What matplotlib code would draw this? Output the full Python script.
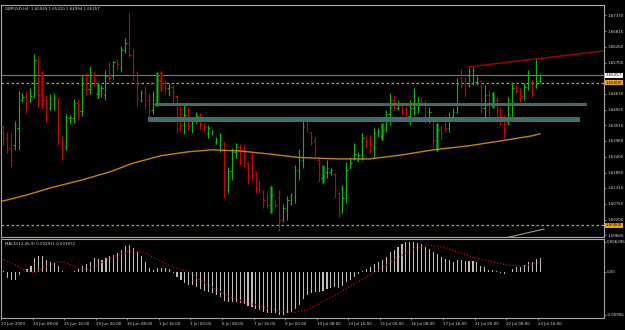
import matplotlib
matplotlib.use("Agg")
import matplotlib.pyplot as plt
import matplotlib.transforms as mtransforms
from matplotlib.patches import Rectangle

# GBPUSD H4 bars, 23 Jun 2009 - 23 Jul 2009
opens = [1.6345, 1.6307, 1.6272, 1.6282, 1.6342, 1.6440, 1.6450, 1.6436, 1.6454, 1.6580,
         1.6457, 1.6440, 1.6410, 1.6436, 1.6447, 1.6310, 1.6279, 1.6377, 1.6377, 1.6429,
         1.6401, 1.6478, 1.6478, 1.6527, 1.6461, 1.6475, 1.6457, 1.6524, 1.6524, 1.6573,
         1.6552, 1.6616, 1.6640, 1.6602, 1.6538, 1.6440, 1.6464, 1.6440, 1.6405, 1.6426,
         1.6510, 1.6499, 1.6482, 1.6485, 1.6454, 1.6377, 1.6352, 1.6387, 1.6352, 1.6373,
         1.6384, 1.6356, 1.6324, 1.6324, 1.6293, 1.6282, 1.6290, 1.6124, 1.6191, 1.6258,
         1.6275, 1.6265, 1.6218, 1.6236, 1.6187, 1.6149, 1.6121, 1.6100, 1.6071, 1.6085,
         1.6096, 1.6022, 1.6054, 1.6089, 1.6100, 1.6194, 1.6229, 1.6352, 1.6328, 1.6296,
         1.6229, 1.6166, 1.6187, 1.6187, 1.6180, 1.6114, 1.6054, 1.6096, 1.6201, 1.6236,
         1.6229, 1.6244, 1.6310, 1.6300, 1.6272, 1.6321, 1.6314, 1.6349, 1.6391, 1.6440,
         1.6412, 1.6426, 1.6408, 1.6384, 1.6412, 1.6426, 1.6440, 1.6429, 1.6377, 1.6366,
         1.6300, 1.6335, 1.6370, 1.6342, 1.6384, 1.6398, 1.6517, 1.6496, 1.6492, 1.6528,
         1.6503, 1.6507, 1.6412, 1.6457, 1.6422, 1.6440, 1.6405, 1.6377, 1.6363, 1.6426,
         1.6482, 1.6471, 1.6454, 1.6485, 1.6503, 1.6489, 1.6505]
highs = [1.6352, 1.6328, 1.6324, 1.6366, 1.6471, 1.6464, 1.6471, 1.6482, 1.6602, 1.6595,
         1.6542, 1.6457, 1.6461, 1.6464, 1.6447, 1.6314, 1.6391, 1.6387, 1.6443, 1.6443,
         1.6527, 1.6534, 1.6559, 1.6538, 1.6499, 1.6492, 1.6545, 1.6573, 1.6577, 1.6584,
         1.6630, 1.6658, 1.6745, 1.6619, 1.6538, 1.6475, 1.6489, 1.6464, 1.6471, 1.6538,
         1.6542, 1.6510, 1.6499, 1.6492, 1.6457, 1.6419, 1.6426, 1.6415, 1.6380, 1.6398,
         1.6394, 1.6359, 1.6352, 1.6335, 1.6310, 1.6324, 1.6293, 1.6204, 1.6272, 1.6290,
         1.6286, 1.6286, 1.6222, 1.6258, 1.6191, 1.6159, 1.6124, 1.6114, 1.6138, 1.6089,
         1.6124, 1.6075, 1.6103, 1.6114, 1.6211, 1.6268, 1.6380, 1.6370, 1.6328, 1.6310,
         1.6236, 1.6211, 1.6229, 1.6201, 1.6184, 1.6117, 1.6142, 1.6222, 1.6240, 1.6290,
         1.6258, 1.6324, 1.6317, 1.6317, 1.6342, 1.6342, 1.6359, 1.6405, 1.6464, 1.6457,
         1.6440, 1.6433, 1.6415, 1.6440, 1.6482, 1.6450, 1.6450, 1.6440, 1.6415, 1.6370,
         1.6359, 1.6352, 1.6387, 1.6398, 1.6412, 1.6517, 1.6549, 1.6521, 1.6552, 1.6556,
         1.6524, 1.6510, 1.6492, 1.6475, 1.6468, 1.6450, 1.6415, 1.6387, 1.6450, 1.6503,
         1.6492, 1.6482, 1.6499, 1.6545, 1.6510, 1.6587, 1.6531]
lows = [1.6282, 1.6254, 1.6204, 1.6265, 1.6265, 1.6433, 1.6394, 1.6433, 1.6447, 1.6412,
        1.6412, 1.6363, 1.6405, 1.6405, 1.6282, 1.6229, 1.6265, 1.6356, 1.6359, 1.6370,
        1.6384, 1.6457, 1.6461, 1.6489, 1.6447, 1.6450, 1.6440, 1.6503, 1.6513, 1.6545,
        1.6538, 1.6605, 1.6591, 1.6510, 1.6419, 1.6433, 1.6408, 1.6380, 1.6391, 1.6419,
        1.6471, 1.6461, 1.6454, 1.6429, 1.6324, 1.6328, 1.6321, 1.6335, 1.6324, 1.6359,
        1.6338, 1.6328, 1.6307, 1.6317, 1.6286, 1.6258, 1.6096, 1.6114, 1.6159, 1.6236,
        1.6211, 1.6204, 1.6145, 1.6159, 1.6114, 1.6114, 1.6061, 1.6061, 1.6043, 1.6064,
        1.5980, 1.6012, 1.6019, 1.6071, 1.6078, 1.6159, 1.6201, 1.6328, 1.6282, 1.6240,
        1.6152, 1.6149, 1.6166, 1.6177, 1.6096, 1.6029, 1.6043, 1.6078, 1.6201, 1.6229,
        1.6222, 1.6229, 1.6272, 1.6254, 1.6236, 1.6310, 1.6300, 1.6328, 1.6352, 1.6405,
        1.6405, 1.6387, 1.6370, 1.6352, 1.6387, 1.6394, 1.6422, 1.6359, 1.6359, 1.6275,
        1.6261, 1.6300, 1.6328, 1.6328, 1.6377, 1.6394, 1.6482, 1.6450, 1.6485, 1.6492,
        1.6492, 1.6394, 1.6380, 1.6380, 1.6412, 1.6359, 1.6352, 1.6307, 1.6352, 1.6377,
        1.6464, 1.6433, 1.6440, 1.6475, 1.6450, 1.6482, 1.6499]
closes = [1.6300, 1.6265, 1.6229, 1.6352, 1.6440, 1.6450, 1.6436, 1.6454, 1.6580, 1.6457,
          1.6440, 1.6377, 1.6440, 1.6447, 1.6317, 1.6265, 1.6380, 1.6380, 1.6429, 1.6401,
          1.6478, 1.6475, 1.6527, 1.6510, 1.6482, 1.6482, 1.6524, 1.6517, 1.6573, 1.6566,
          1.6616, 1.6640, 1.6598, 1.6538, 1.6440, 1.6464, 1.6422, 1.6401, 1.6426, 1.6510,
          1.6499, 1.6482, 1.6485, 1.6454, 1.6370, 1.6352, 1.6387, 1.6349, 1.6373, 1.6384,
          1.6352, 1.6345, 1.6342, 1.6331, 1.6303, 1.6310, 1.6124, 1.6191, 1.6258, 1.6275,
          1.6229, 1.6236, 1.6166, 1.6201, 1.6131, 1.6124, 1.6089, 1.6071, 1.6107, 1.6071,
          1.6019, 1.6061, 1.6089, 1.6107, 1.6194, 1.6229, 1.6345, 1.6338, 1.6289, 1.6265,
          1.6177, 1.6201, 1.6201, 1.6194, 1.6124, 1.6047, 1.6096, 1.6194, 1.6218, 1.6251,
          1.6247, 1.6307, 1.6282, 1.6282, 1.6324, 1.6331, 1.6349, 1.6391, 1.6440, 1.6415,
          1.6426, 1.6405, 1.6384, 1.6412, 1.6440, 1.6440, 1.6429, 1.6377, 1.6398, 1.6300,
          1.6335, 1.6324, 1.6342, 1.6380, 1.6398, 1.6496, 1.6489, 1.6475, 1.6542, 1.6545,
          1.6514, 1.6412, 1.6457, 1.6405, 1.6447, 1.6405, 1.6384, 1.6356, 1.6426, 1.6482,
          1.6471, 1.6454, 1.6485, 1.6527, 1.6482, 1.6524, 1.6526]
dark_bars = [10, 24, 39, 40, 68, 81, 96, 110, 124]

# moving average, sampled along the curve
ma_bars = [0, 6, 12, 20, 27, 33, 40, 47, 53, 60, 67, 75, 85, 93, 101, 109, 118, 126, 134, 136]
ma_values = [1.6085, 1.6106, 1.6131, 1.6159, 1.6187, 1.6218, 1.6244, 1.6258, 1.6265, 1.6261,
             1.6251, 1.6238, 1.6233, 1.6233, 1.6247, 1.6265, 1.6279, 1.6296, 1.6314, 1.6321]

# MACD(12,26,9) main line (histogram) and signal line
macd_main = [0.0002, -0.0014, -0.0018, -0.0018, -0.0008, -0.0001, 0.0005, 0.0011, 0.0028, 0.0032,
             0.0032, 0.0025, 0.0021, 0.0018, 0.0011, 0.0001, -0.0002, -0.0001, 0.0001, 0.0007,
             0.0012, 0.0015, 0.0021, 0.0028, 0.0026, 0.0025, 0.0028, 0.0032, 0.0035, 0.0039,
             0.0046, 0.0054, 0.0056, 0.0049, 0.0042, 0.0032, 0.0021, 0.0007, 0.0004, 0.0007,
             0.0007, 0.0007, 0.0005, -0.0004, -0.0011, -0.0018, -0.0025, -0.0028, -0.0028, -0.0032,
             -0.0036, -0.0040, -0.0043, -0.0046, -0.0050, -0.0053, -0.0062, -0.0064, -0.0063, -0.0064,
             -0.0066, -0.0068, -0.0072, -0.0074, -0.0078, -0.0081, -0.0084, -0.0087, -0.0087, -0.0088,
             -0.0092, -0.0091, -0.0088, -0.0085, -0.0078, -0.0070, -0.0058, -0.0050, -0.0045, -0.0042,
             -0.0042, -0.0040, -0.0037, -0.0034, -0.0033, -0.0034, -0.0030, -0.0022, -0.0017, -0.0011,
             -0.0006, 0.0002, 0.0006, 0.0010, 0.0015, 0.0019, 0.0024, 0.0031, 0.0040, 0.0046,
             0.0052, 0.0058, 0.0061, 0.0063, 0.0062, 0.0060, 0.0057, 0.0052, 0.0048, 0.0042,
             0.0036, 0.0031, 0.0027, 0.0024, 0.0021, 0.0024, 0.0025, 0.0022, 0.0023, 0.0022,
             0.0019, 0.0011, 0.0009, 0.0004, 0.0003, 0.0001, -0.0003, -0.0006, -0.0002, 0.0006,
             0.0009, 0.0009, 0.0013, 0.0019, 0.0020, 0.0026, 0.0029]
signal_bars = [0, 3, 6, 8, 10, 14, 16, 19, 21, 24, 27, 31, 33, 36, 39, 43, 47, 50, 54, 58,
               62, 66, 70, 74, 77, 80, 84, 88, 92, 96, 100, 104, 108, 112, 116, 120, 124, 128, 132, 136]
signal_values = [0.0025, 0.0014, 0.0000, -0.0002, 0.0007, 0.0021, 0.0018, 0.0007, 0.0004, 0.0014,
                 0.0028, 0.0040, 0.0044, 0.0039, 0.0025, 0.0009, 0.0000, -0.0019, -0.0038, -0.0055,
                 -0.0066, -0.0075, -0.0083, -0.0086, -0.0080, -0.0068, -0.0050, -0.0030, -0.0012, 0.0008,
                 0.0030, 0.0048, 0.0056, 0.0050, 0.0038, 0.0028, 0.0020, 0.0013, 0.0012, 0.0019]

# chart objects
zone_start = [38.6, 36.8]
zone_end = [148.0, 146.0]
zone_low = [1.6419, 1.6363]
zone_high = [1.6430, 1.6380]
trend_bars = [118, 152.2]
trend_prices = [1.6556, 1.6612]
trend2_bars = [127, 137]
trend2_prices = [1.5955, 1.5987]
alert_levels = [1.65000, 1.60000]
bid = 1.65257

price_ticks = [1.67370, 1.66815, 1.66260, 1.65705, 1.64610, 1.64055, 1.63515,
               1.62960, 1.62405, 1.61850, 1.61310, 1.60755, 1.60200, 1.59660]
date_bars = [0, 8, 16, 24, 32, 40, 48, 56, 64, 72, 80, 88, 96, 104, 112, 120, 128, 136]
date_labels = ["23 Jun 2009", "24 Jun 08:00", "25 Jun 16:00", "29 Jun 00:00", "30 Jun 08:00",
               "1 Jul 16:00", "3 Jul 00:00", "6 Jul 08:00", "7 Jul 16:00", "9 Jul 00:00",
               "10 Jul 08:00", "13 Jul 16:00", "15 Jul 00:00", "16 Jul 08:00", "17 Jul 16:00",
               "21 Jul 00:00", "22 Jul 08:00", "23 Jul 16:00"]

UP, DOWN = "#00c000", "#d00000"
DARK_UP, DARK_DOWN = "#006400", "#6e0000"
FRAME = "#a8a8a8"
TXT = "#d8d8d8"
FS = 2.9

fig = plt.figure(figsize=(6.25, 3.3), dpi=100, facecolor="black")
ax = fig.add_axes([1 / 625, 93 / 330, 603 / 625, 232 / 330], facecolor="black")
ax2 = fig.add_axes([1 / 625, 12 / 330, 603 / 625, 79 / 330], facecolor="black")
xlim = (-0.43, 152.2)

for a in (ax, ax2):
    a.set_xlim(*xlim)
    for s in a.spines.values():
        s.set_color(FRAME)
        s.set_linewidth(0.8)
    a.yaxis.tick_right()
    a.tick_params(axis="y", colors=FRAME, labelcolor=TXT, labelsize=FS, length=1.5, width=0.5, pad=0.8)

# --- price panel ---
ax.set_ylim(1.5959, 1.6773)
for i in range(len(opens)):
    o, h, l, c = opens[i], highs[i], lows[i], closes[i]
    up = c >= o
    if i in dark_bars:
        ax.vlines(i, l, h, color=DARK_UP if up else DARK_DOWN, lw=2.2, zorder=2)
    col = UP if up else DOWN
    ax.vlines(i, l, h, color=col, lw=0.8, zorder=3)
    ax.hlines(o, i - 0.35, i, color=col, lw=0.8, zorder=3)
    ax.hlines(c, i, i + 0.35, color=col, lw=0.8, zorder=3)

ax.plot(ma_bars, ma_values, color="#c8820c", lw=1.0, zorder=4)

for x0, x1, y0, y1 in zip(zone_start, zone_end, zone_low, zone_high):
    ax.add_patch(Rectangle((x0, y0), x1 - x0, y1 - y0, color="#3f6e6d", zorder=4, lw=0))

ax.plot(trend_bars, trend_prices, color="#a80000", lw=1.0, zorder=4)
ax.plot(trend2_bars, trend2_prices, color="#9a9a9a", lw=0.8, zorder=4)
for lev in alert_levels:
    ax.axhline(lev, color="#e09a10", ls=(0, (2, 2)), lw=0.9, zorder=1)
ax.axhline(bid, color="#7c7c7c", lw=0.8, zorder=1)

ax.set_yticks(price_ticks)
ax.set_yticklabels([f"{v:.5f}" for v in price_ticks])
ax.set_xticks([])

trans = mtransforms.blended_transform_factory(ax.transAxes, ax.transData)
ax.text(1.003, bid, f"{bid:.5f}", transform=trans, fontsize=FS, color="black", va="center",
        ha="left", bbox=dict(boxstyle="square,pad=0.15", fc="white", ec="none"))
for lev in alert_levels:
    ax.text(1.003, lev, f"{lev:.5f}", transform=trans, fontsize=FS, color="black", va="center",
            ha="left", bbox=dict(boxstyle="square,pad=0.15", fc="#f0a800", ec="none"))

ax.text(0.006, 0.992, "GBPUSD,H4  1.65049 1.65310 1.64994 1.65257", transform=ax.transAxes,
        fontsize=FS, color=TXT, va="top", ha="left")

# --- MACD panel ---
ax2.set_ylim(-0.00976, 0.00683)
ax2.bar(range(len(macd_main)), macd_main, width=0.28, color="#bcbcbc", zorder=2)
ax2.plot(signal_bars, signal_values, color="#d00000", ls=(0, (1, 1.5)), lw=0.9, zorder=3)
ax2.set_yticks([0.006296, 0.0, -0.00906])
ax2.set_yticklabels(["0.006296", "0.00", "-0.00906"])
ax2.text(0.006, 0.96, "MACD(12,26,9) 0.002911 0.001872", transform=ax2.transAxes,
         fontsize=FS, color=TXT, va="top", ha="left")

ax2.set_xticks([b - 0.6 for b in date_bars])
ax2.set_xticklabels(date_labels)
ax2.tick_params(axis="x", colors=FRAME, labelcolor=TXT, labelsize=FS, length=1.5, width=0.5, pad=1.2)
for lbl in ax2.get_xticklabels():
    lbl.set_ha("left")

fig.savefig("out.png", dpi=100, facecolor="black")
